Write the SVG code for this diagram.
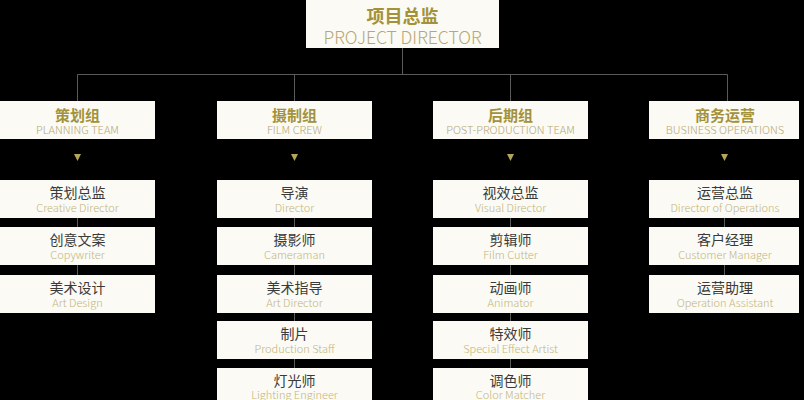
<svg xmlns="http://www.w3.org/2000/svg" width="804" height="400" viewBox="0 0 804 400">
<style>
.box{fill:#fbfaf4}
.ln{stroke:#5a5a5a;stroke-width:1;fill:none}
.tz{font-family:"Noto Sans CJK SC","Noto Sans",sans-serif;font-weight:700;fill:#a3923a;text-anchor:middle}
.te{font-family:"Noto Sans CJK SC","Noto Sans",sans-serif;font-weight:300;fill:#b5a874;text-anchor:middle}
.cz{font-family:"Noto Sans CJK SC","Noto Sans",sans-serif;font-weight:400;fill:#3a3a3a;text-anchor:middle;font-size:14px}
.ce{font-family:"Noto Sans CJK SC","Noto Sans",sans-serif;font-weight:300;fill:#c2b67c;text-anchor:middle;font-size:11px}
.tri{fill:#b3a55a}
</style>
<rect width="804" height="400" fill="#000"/>
<g id="connectors">
<path class="ln" d="M402.5 48V74.5M77.5 74.5H727.5M77.5 74.5V101M294.5 74.5V101M510.5 74.5V101M727.5 74.5V101"/>
<path class="ln" d="M77.5 180V313M294.5 180V400M510.5 180V400M724.5 180V313"/>
<polygon class="tri" points="74,154 81,154 77.5,161"/>
<polygon class="tri" points="291,154 298,154 294.5,161"/>
<polygon class="tri" points="507,154 514,154 510.5,161"/>
<polygon class="tri" points="721,154 728,154 724.5,161"/>
</g>
<g id="director">
<rect class="box" x="306" y="0" width="193" height="48"/>
<text class="tz" x="402.5" y="23" font-size="18">项目总监</text>
<text class="te" x="402.5" y="43.5" font-size="17.5" fill="#a0956a">PROJECT DIRECTOR</text>
</g>
<g id="team-planning">
<rect class="box" x="0" y="101" width="155" height="38"/>
<text class="tz" x="77.5" y="120.5" font-size="15">策划组</text>
<text class="te" x="77.5" y="134" font-size="11">PLANNING TEAM</text>
</g>
<g id="team-film">
<rect class="box" x="217" y="101" width="155" height="38"/>
<text class="tz" x="294.5" y="120.5" font-size="15">摄制组</text>
<text class="te" x="294.5" y="134" font-size="11">FILM CREW</text>
</g>
<g id="team-post">
<rect class="box" x="433" y="101" width="155" height="38"/>
<text class="tz" x="510.5" y="120.5" font-size="15">后期组</text>
<text class="te" x="510.5" y="134" font-size="11">POST-PRODUCTION TEAM</text>
</g>
<g id="team-business">
<rect class="box" x="649" y="101" width="150" height="38"/>
<text class="tz" x="725" y="120.5" font-size="15">商务运营</text>
<text class="te" x="725" y="134" font-size="11">BUSINESS OPERATIONS</text>
</g>
<g id="p1"><rect class="box" x="0" y="180" width="155" height="38"/><text class="cz" x="77.5" y="198">策划总监</text><text class="ce" x="77.5" y="212">Creative Director</text></g>
<g id="p2"><rect class="box" x="0" y="227" width="155" height="38"/><text class="cz" x="77.5" y="245">创意文案</text><text class="ce" x="77.5" y="259">Copywriter</text></g>
<g id="p3"><rect class="box" x="0" y="275" width="155" height="38"/><text class="cz" x="77.5" y="293">美术设计</text><text class="ce" x="77.5" y="307">Art Design</text></g>
<g id="f1"><rect class="box" x="217" y="180" width="155" height="38"/><text class="cz" x="294.5" y="198">导演</text><text class="ce" x="294.5" y="212">Director</text></g>
<g id="f2"><rect class="box" x="217" y="227" width="155" height="38"/><text class="cz" x="294.5" y="245">摄影师</text><text class="ce" x="294.5" y="259">Cameraman</text></g>
<g id="f3"><rect class="box" x="217" y="275" width="155" height="38"/><text class="cz" x="294.5" y="293">美术指导</text><text class="ce" x="294.5" y="307">Art Director</text></g>
<g id="f4"><rect class="box" x="217" y="321" width="155" height="38"/><text class="cz" x="294.5" y="339">制片</text><text class="ce" x="294.5" y="353">Production Staff</text></g>
<g id="f5"><rect class="box" x="217" y="368" width="155" height="38"/><text class="cz" x="294.5" y="386">灯光师</text><text class="ce" x="294.5" y="399">Lighting Engineer</text></g>
<g id="o1"><rect class="box" x="433" y="180" width="155" height="38"/><text class="cz" x="510.5" y="198">视效总监</text><text class="ce" x="510.5" y="212">Visual Director</text></g>
<g id="o2"><rect class="box" x="433" y="227" width="155" height="38"/><text class="cz" x="510.5" y="245">剪辑师</text><text class="ce" x="510.5" y="259">Film Cutter</text></g>
<g id="o3"><rect class="box" x="433" y="275" width="155" height="38"/><text class="cz" x="510.5" y="293">动画师</text><text class="ce" x="510.5" y="307">Animator</text></g>
<g id="o4"><rect class="box" x="433" y="321" width="155" height="38"/><text class="cz" x="510.5" y="339">特效师</text><text class="ce" x="510.5" y="353">Special Effect Artist</text></g>
<g id="o5"><rect class="box" x="433" y="368" width="155" height="38"/><text class="cz" x="510.5" y="386">调色师</text><text class="ce" x="510.5" y="399">Color Matcher</text></g>
<g id="b1"><rect class="box" x="649" y="180" width="150" height="38"/><text class="cz" x="725" y="198">运营总监</text><text class="ce" x="725" y="212">Director of Operations</text></g>
<g id="b2"><rect class="box" x="649" y="227" width="150" height="38"/><text class="cz" x="725" y="245">客户经理</text><text class="ce" x="725" y="259">Customer Manager</text></g>
<g id="b3"><rect class="box" x="649" y="275" width="150" height="38"/><text class="cz" x="725" y="293">运营助理</text><text class="ce" x="725" y="307">Operation Assistant</text></g>
</svg>
